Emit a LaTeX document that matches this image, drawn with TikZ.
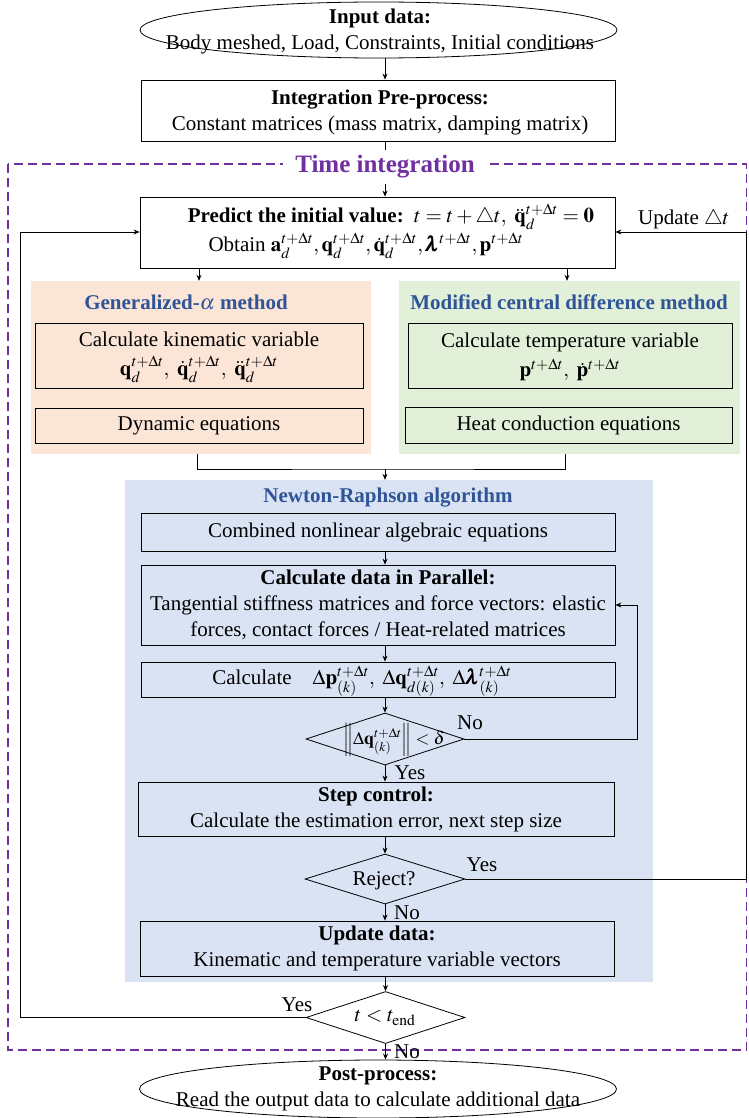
\documentclass[tikz,border=0pt]{standalone}
\usepackage{amsmath}
\usepackage{mathptmx}
\usepackage[no-math]{fontspec}
\setmainfont{Liberation Serif}
\usetikzlibrary{shapes.geometric,arrows.meta,calc}
\definecolor{orpanel}{HTML}{FBE5D6}
\definecolor{grpanel}{HTML}{E2F0D9}
\definecolor{blpanel}{HTML}{DAE3F3}
\definecolor{ttlblue}{HTML}{2F5597}
\definecolor{frpurple}{HTML}{7030A0}
\newcommand\myfs{\fontsize{21}{26}\selectfont}
\newcommand\tdt{t+\Delta t}
\newcommand\blam{\pmb{\lambda}}
\tikzset{
  base/.style={font=\myfs, align=center, inner sep=0pt},
  box/.style={draw, line width=0.8pt, rectangle, inner sep=0pt},
  panel/.style={rectangle, inner sep=0pt, draw=none},
  dia/.style={draw, diamond, line width=0.8pt, inner sep=0pt},
  ell/.style={draw, ellipse, line width=0.8pt, inner sep=0pt},
  ptitle/.style={font=\myfs\bfseries, text=ttlblue, inner sep=0pt},
  arr/.style={-{Stealth[length=6pt,width=5pt]}, line width=0.8pt},
  ln/.style={line width=0.8pt},
  lab/.style={font=\myfs, inner sep=0pt},
}
\begin{document}
\begin{tikzpicture}[x=1pt,y=-1pt]
\useasboundingbox (0,0) rectangle (748,1118);
% axis for main arrows
\coordinate (ax) at (385,0);
% frame
\draw[frpurple, line width=1.3pt, dash pattern=on 9pt off 5pt] (8,164) rectangle (746.5,1050);
% input
\node[ell, minimum width=477pt, minimum height=56pt] (in) at (378.5,30) {};
\node[base] (int) at (380,31) {\textbf{Input data:}\\Body meshed, Load, Constraints, Initial conditions};
% pre-process
\node[box, minimum width=474pt, minimum height=61pt] (pre) at (378,110.5) {};
\node[base] (pret) at (380,112) {\textbf{Integration Pre-process:}\\Constant matrices (mass matrix, damping matrix)};
% predict
\node[box, minimum width=475pt, minimum height=71pt] (pred) at (377.5,232.5) {};
\node[base] (predt) at (391,231) {\textbf{Predict the initial value:}\ \ $t = t + \triangle t,\ \ddot{\mathbf{q}}_d^{\tdt} = \mathbf{0}$\\[2pt]
Obtain $\mathbf{a}_d^{\tdt}, \mathbf{q}_d^{\tdt}, \dot{\mathbf{q}}_d^{\tdt}, \blam^{\tdt}, \mathbf{p}^{\tdt}$\hspace*{50pt}};
% panels
\node[panel, fill=orpanel, minimum width=340pt, minimum height=173pt] (gp) at (201,367.5) {};
\node[ptitle] (gpt) at (186,302) {Generalized-$\boldsymbol{\alpha}$ method};
\node[box, minimum width=328pt, minimum height=65pt] (gb1) at (199,355.5) {};
\node[base] (gb1t) at (199,357) {Calculate kinematic variable\\[3pt]$\mathbf{q}_d^{\tdt},\ \dot{\mathbf{q}}_d^{\tdt},\ \ddot{\mathbf{q}}_d^{\tdt}$};
\node[box, minimum width=328pt, minimum height=35pt] (gb2) at (199,425.5) {};
\node[base] (gb2t) at (gb2) {Dynamic equations};
\node[panel, fill=grpanel, minimum width=341pt, minimum height=173pt] (mp) at (569.5,367.5) {};
\node[ptitle] (mpt) at (569,302) {Modified central difference method};
\node[box, minimum width=324pt, minimum height=65pt] (mb1) at (570,355.5) {};
\node[base] (mb1t) at (570,357) {Calculate temperature variable\\[3pt]$\mathbf{p}^{\tdt},\ \dot{\mathbf{p}}^{\tdt}$};
\node[box, minimum width=327pt, minimum height=36pt] (mb2) at (568.5,425) {};
\node[base] (mb2t) at (mb2) {Heat conduction equations};
% NR panel
\node[panel, fill=blpanel, minimum width=528pt, minimum height=502pt] (nr) at (389,731) {};
\node[ptitle] (nrt) at (388,498) {Newton-Raphson algorithm};
\node[box, minimum width=474pt, minimum height=38pt] (comb) at (378,532) {};
\node[base] (combt) at (comb) {Combined nonlinear algebraic equations};
\node[box, minimum width=474pt, minimum height=80pt] (par) at (378,605) {};
\node[base] (part) at (par) {\textbf{Calculate data in Parallel:}\\Tangential stiffness matrices and force vectors: elastic\\forces, contact forces / Heat-related matrices};
\node[box, minimum width=474pt, minimum height=35pt] (calc) at (378,679.5) {};
\node[base] (calct) at (362,681) {Calculate\quad $\Delta\mathbf{p}^{\tdt}_{(k)},\ \Delta\mathbf{q}^{\tdt}_{d(k)},\ \Delta\blam^{\tdt}_{(k)}$};
\node[dia, minimum width=158pt, minimum height=52pt] (d1) at (385,739) {};
\node[base, font=\fontsize{18}{22}\selectfont] (d1t) at (394,740) {$\left\|\Delta\mathbf{q}^{\tdt}_{(k)}\right\|<\delta$};
\node[box, minimum width=476pt, minimum height=54pt] (step) at (376,809) {};
\node[base] (stept) at (step) {\textbf{Step control:}\\Calculate the estimation error, next step size};
\node[dia, minimum width=160pt, minimum height=50pt] (d2) at (385,879) {};
\node[base] (d2t) at (384,881) {Reject?};
\node[box, minimum width=474pt, minimum height=55pt] (upd) at (377,948.5) {};
\node[base] (updt) at (upd) {\textbf{Update data:}\\Kinematic and temperature variable vectors};
\node[dia, minimum width=159pt, minimum height=52pt] (d3) at (385.5,1017.5) {};
\node[base] (d3t) at (385,1018) {$t<t_{\mathrm{end}}$};
% post
\node[ell, minimum width=477pt, minimum height=58pt] (post) at (378,1089) {};
\node[base] (postt) at (378,1089) {\textbf{Post-process:}\\Read the output data to calculate additional data};
% connectors
\draw[arr] (in.south -| ax) -- (pre.north -| ax);
\draw[arr] (pre.south -| ax) -- (pred.north -| ax);
\coordinate (gx) at (199,0);
\coordinate (mx) at (567,0);
\draw[arr] (pred.south -| gx) -- (gp.north -| gx);
\draw[arr] (pred.south -| mx) -- (mp.north -| mx);
\coordinate (jn) at (385,469);
\coordinate (gx2) at (197,0);
\coordinate (mx2) at (565,0);
\draw[ln] (gp.south -| gx2) |- (jn) -| (mp.south -| mx2);
\draw[arr] (jn) -- (nr.north -| jn);
\draw[arr] (comb.south -| ax) -- (par.north -| ax);
\draw[arr] (par.south -| ax) -- (calc.north -| ax);
\draw[arr] (calc.south -| ax) -- (d1.north);
\coordinate (fb) at (637,605);
\draw[arr] (d1.east) -| (fb) -- (par.east |- fb);
\draw[arr] (d1.south) -- (step.north -| d1.south);
\draw[arr] (step.south -| ax) -- (d2.north);
\coordinate (rl) at (746,232);
\draw[arr] (d2.east) -| (rl) -- (pred.east |- rl);
\draw[arr] (d2.south) -- (upd.north -| d2.south);
\draw[arr] (upd.south -| d3.north) -- (d3.north);
\coordinate (ll) at (20,232);
\draw[arr] (d3.west) -| (ll) -- (pred.west |- ll);
\draw[arr] (d3.south) -- (post.north -| d3.south);
% title over frame
\node[font=\fontsize{25}{30}\selectfont\bfseries, text=frpurple, fill=white, inner xsep=12pt, inner ysep=6pt] (ttl) at (385,167) {Time integration};
% labels
\node[lab, anchor=south west] (lupd) at (638,229) {Update $\triangle t$};
\node[lab] (lno1) at (470,723) {No};
\node[lab] (lyes1) at (410,773) {Yes};
\node[lab] (lyes2) at (482,865) {Yes};
\node[lab] (lno2) at (407,913) {No};
\node[lab] (lyes3) at (297,1005) {Yes};
\node[lab] (lno3) at (407,1052) {No};
\end{tikzpicture}
\end{document}
